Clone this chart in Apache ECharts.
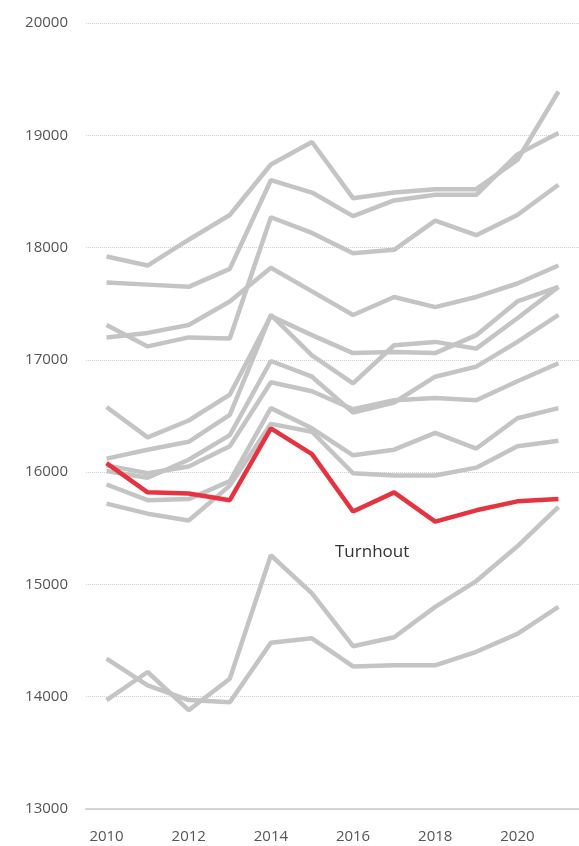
<!DOCTYPE html>
<html>
<head>
<meta charset="utf-8">
<script src="https://cdn.jsdelivr.net/npm/echarts@6/dist/echarts.min.js"></script>
<style>
  html, body { margin: 0; padding: 0; background: #fff; }
  #chart { width: 579px; height: 846px; }
</style>
</head>
<body>
<div id="chart"></div>
<script>
const years = ['2010', '2011', '2012', '2013', '2014', '2015', '2016', '2017', '2018', '2019', '2020', '2021'];

// other municipalities (grey)
const lineA = [17920, 17840, 18070, 18290, 18740, 18940, 18440, 18490, 18520, 18520, 18780, 19390];
const lineB = [17690, 17670, 17650, 17810, 18600, 18490, 18280, 18420, 18470, 18470, 18830, 19020];
const lineC = [17310, 17120, 17200, 17190, 18270, 18130, 17950, 17980, 18240, 18110, 18290, 18560];
const lineD = [17200, 17240, 17310, 17520, 17820, 17610, 17400, 17560, 17470, 17560, 17680, 17840];
const lineE = [16580, 16310, 16460, 16690, 17390, 17220, 17060, 17070, 17060, 17220, 17520, 17650];
const lineF = [16120, 16200, 16270, 16510, 17400, 17040, 16790, 17130, 17160, 17100, 17370, 17650];
const lineG = [16010, 15950, 16110, 16330, 16990, 16850, 16530, 16620, 16850, 16940, 17160, 17400];
const lineH = [16060, 15990, 16050, 16230, 16800, 16720, 16560, 16640, 16660, 16640, 16810, 16970];
const lineI = [15890, 15750, 15760, 15920, 16570, 16390, 16150, 16200, 16350, 16210, 16480, 16570];
const lineJ = [15720, 15630, 15570, 15880, 16430, 16360, 15990, 15970, 15970, 16040, 16230, 16280];
const lineK = [13970, 14220, 13880, 14160, 15260, 14920, 14450, 14530, 14800, 15030, 15340, 15690];
const lineL = [14340, 14100, 13970, 13950, 14480, 14520, 14270, 14280, 14280, 14400, 14560, 14800];

// highlighted
const turnhout = [16080, 15820, 15810, 15750, 16390, 16160, 15650, 15820, 15560, 15660, 15740, 15760];

const greyLines = [lineA, lineB, lineC, lineD, lineE, lineF, lineG, lineH, lineI, lineJ, lineK, lineL];

let chartDom = document.getElementById('chart');
let myChart = echarts.init(chartDom);

const greySeries = greyLines.map(data => ({
    type: 'line',
    data: data,
    symbol: 'none',
    silent: true,
    lineStyle: { color: '#c4c4c4', width: 4.5 },
    z: 2,
}));

const option = {
    animation: false,
    grid: {
        left: 86,
        top: 23,
        width: 498,
        height: 786,
    },
    xAxis: {
        type: 'category',
        data: years,
        boundaryGap: true,
        axisLine: { show: true, lineStyle: { color: '#d4d4d4', width: 2 } },
        axisTick: { show: false },
        axisLabel: {
            interval: 1,
            color: '#555',
            fontFamily: 'Open Sans',
            fontSize: 15,
            margin: 20,
        },
    },
    yAxis: {
        type: 'value',
        min: 13000,
        max: 20000,
        interval: 1000,
        axisLine: { show: false },
        axisTick: { show: false },
        axisLabel: {
            color: '#555',
            fontFamily: 'Open Sans',
            fontSize: 15,
            margin: 18,
            formatter: value => String(value),
        },
        splitLine: {
            show: true,
            lineStyle: { color: '#d0d0d0', type: 'dotted', width: 1 },
        },
    },
    graphic: [
        {
            type: 'text',
            left: 335,
            top: 544,
            style: {
                text: 'Turnhout',
                fill: '#333',
                font: '17px "Open Sans"',
            },
        },
    ],
    series: [
        ...greySeries,
        {
            name: 'Turnhout',
            type: 'line',
            data: turnhout,
            symbol: 'none',
            lineStyle: { color: '#e63340', width: 4.5 },
            z: 5,
        },
    ],
};

myChart.setOption(option);
</script>
</body>
</html>
